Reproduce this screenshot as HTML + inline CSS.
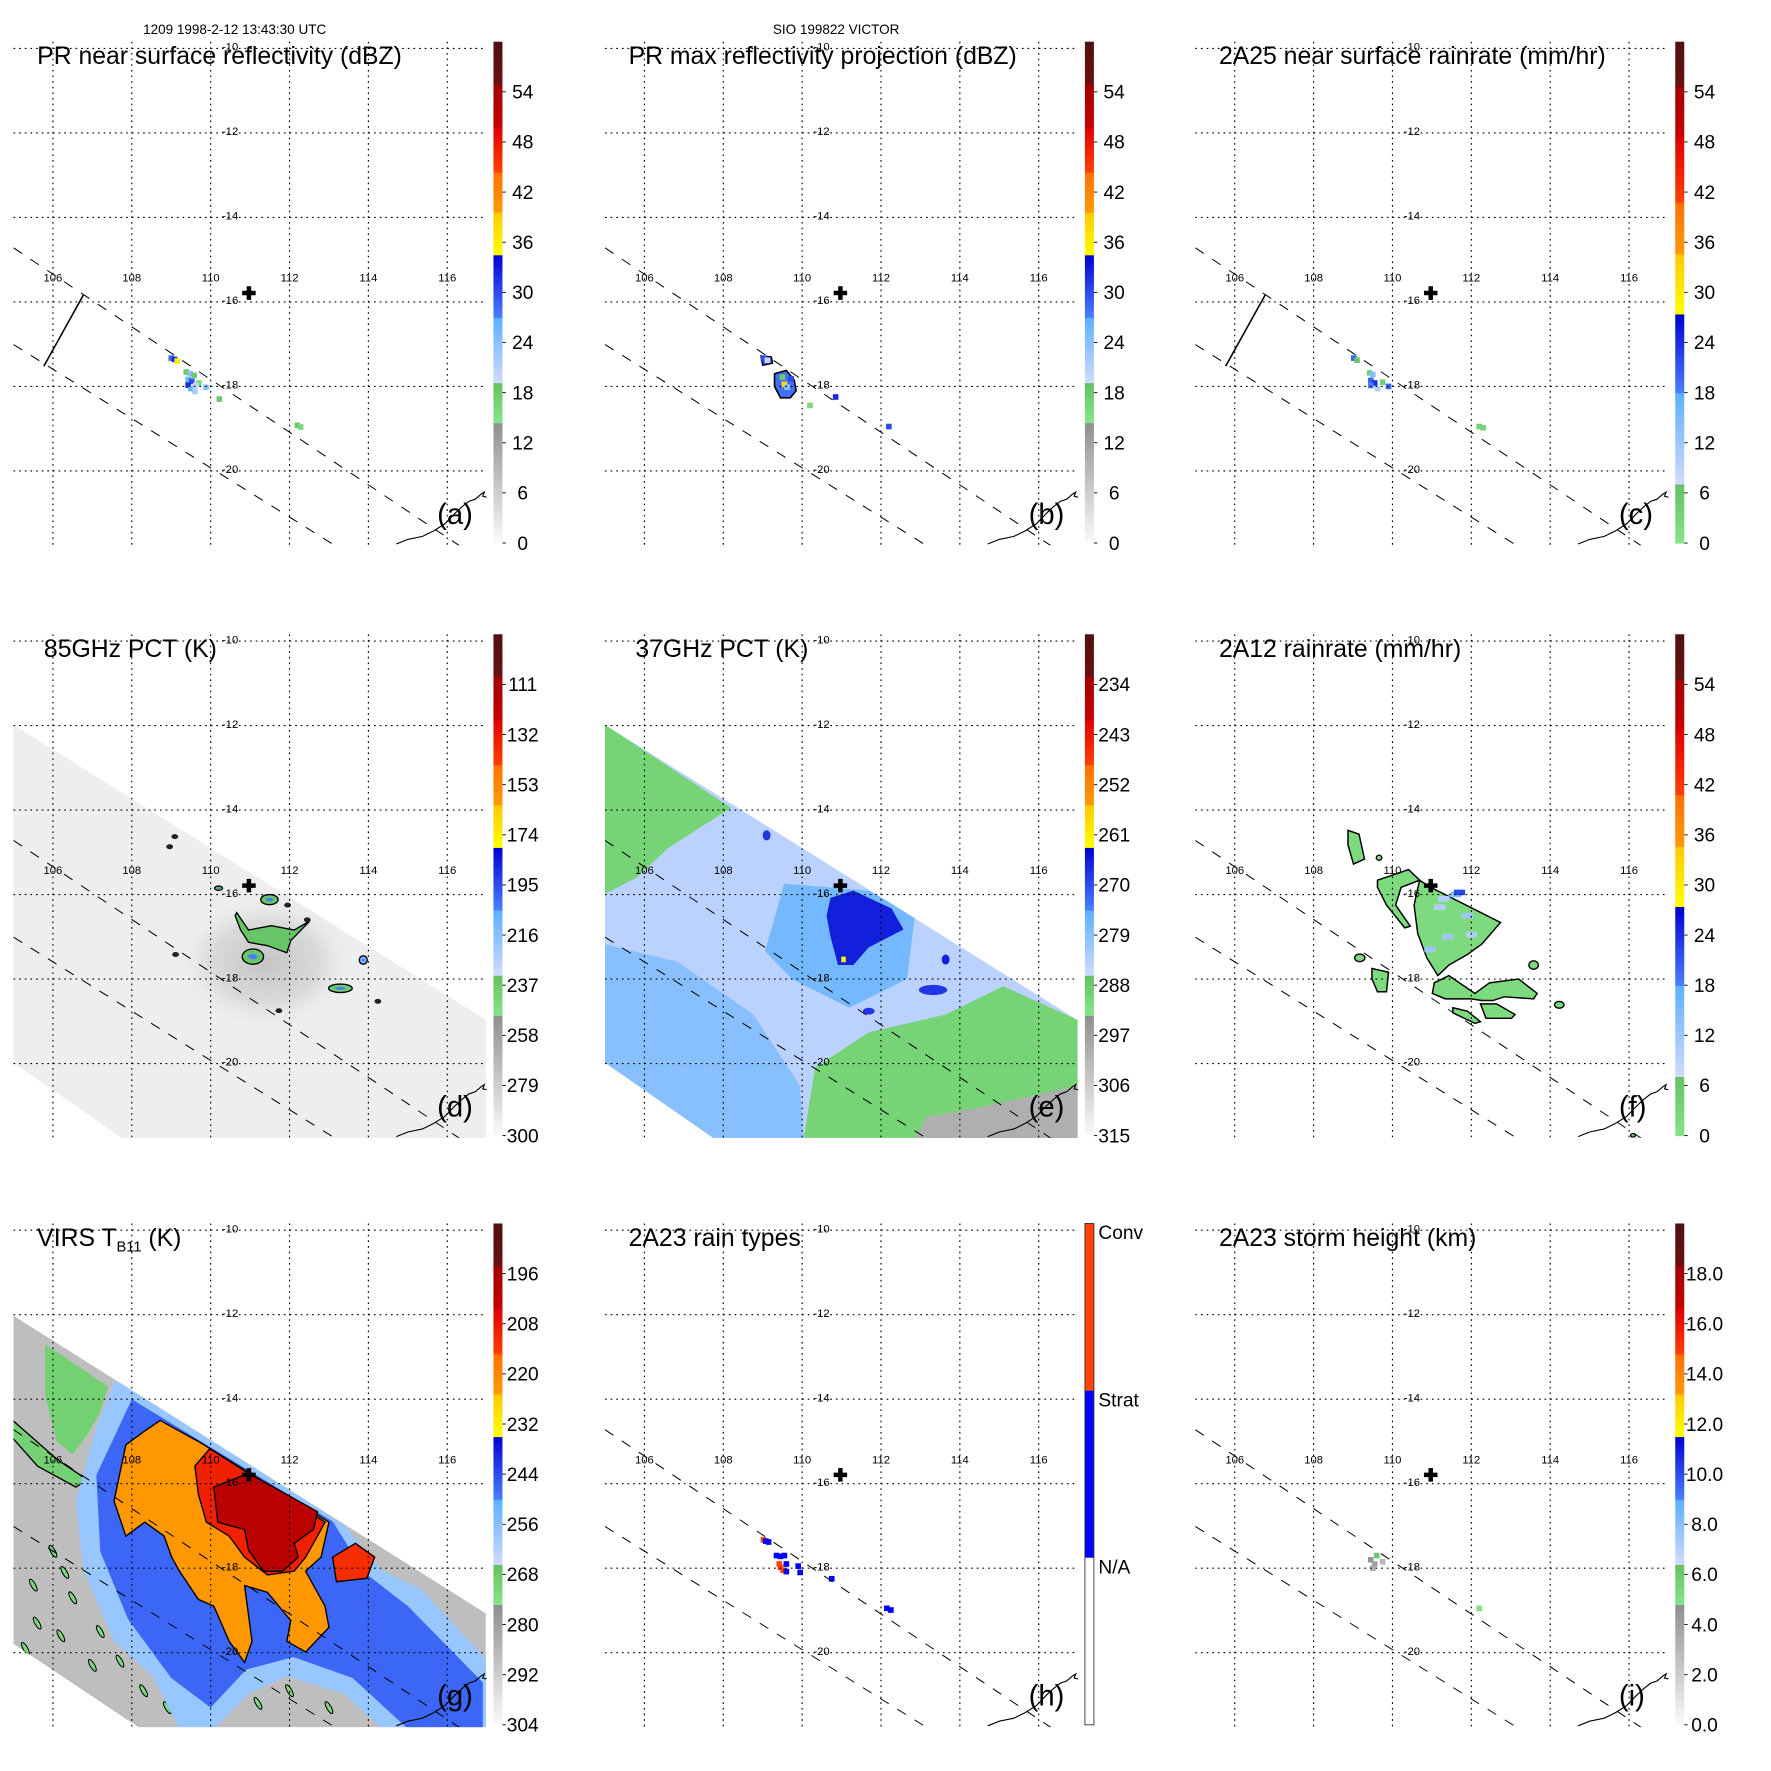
<!DOCTYPE html>
<html><head><meta charset="utf-8"><title>TRMM VICTOR 1998</title>
<style>html,body{margin:0;padding:0;background:#fff}svg{display:block;font-family:"Liberation Sans",sans-serif}</style>
</head><body>
<svg id="fig" width="1771" height="1771" viewBox="0 0 1572 1572" xmlns="http://www.w3.org/2000/svg">
<rect x="0" y="0" width="1572" height="1572" fill="#fff"/>
<text x="127" y="30" font-size="12">1209 1998-2-12 13:43:30 UTC</text>
<text x="686" y="30" font-size="12">SIO 199822 VICTOR</text>
</svg>
<script>
// ---- axis data ----
const lonTicks = [106,108,110,112,114,116];
const latTicks = [-10,-12,-14,-16,-18,-20];
const stormCenter = [110.97,-15.79];
const swathUpper = [[105,-14.72],[117,-22.2]];
const swathLower = [[105,-17.01],[113.09,-21.73]];
const scanLine = [[106.77,-15.84],[105.77,-17.52]];
const coast = [[114.71,-21.73],[115.0,-21.62],[115.37,-21.55],[115.65,-21.42],[115.94,-21.25],[116.2,-21.0],[116.37,-20.85],[116.55,-20.72],[116.71,-20.67],[116.86,-20.55],[116.94,-20.5],[116.9,-20.6],[117.0,-20.62]];

// tick labels per colorbar (bottom -> top, fractions k/10)
const ticksA = ['0','6','12','18','24','30','36','42','48','54'];
const ticksC = ['0','6','12','18','24','30','36','42','48','54'];
const ticksD = ['300','279','258','237','216','195','174','153','132','111'];
const ticksE = ['315','306','297','288','279','270','261','252','243','234'];
const ticksG = ['304','292','280','268','256','244','232','220','208','196'];
const ticksI = ['0.0','2.0','4.0','6.0','8.0','10.0','12.0','14.0','16.0','18.0'];
const ticksH = ['N/A','Strat','Conv'];

// ---- rain cells [lon, lat, value] ----
const cellsA = [[109.0,-17.33,28],[109.08,-17.36,32],[109.15,-17.4,36],[109.38,-17.66,18],[109.48,-17.7,24],[109.58,-17.74,18],[109.43,-17.84,26],[109.52,-17.88,30],[109.43,-17.97,32],[109.5,-18.05,26],[109.6,-18.12,22],[109.7,-17.92,16],[109.88,-18.02,24],[109.62,-17.98,20],[112.2,-18.92,18],[112.28,-18.96,16],[110.22,-18.3,18]];
const cellsB = [[109.02,-17.33,30],[109.12,-17.38,20],[109.5,-17.78,18],[109.55,-17.95,38],[109.62,-18.02,24],[109.72,-17.82,30],[112.2,-18.95,30],[110.85,-18.25,32],[110.2,-18.45,16]];
const cellsC = [[109.02,-17.33,20],[109.1,-17.38,6],[109.42,-17.68,4],[109.5,-17.72,14],[109.45,-17.86,20],[109.55,-17.92,24],[109.45,-17.98,18],[109.62,-18.05,10],[109.75,-17.9,4],[109.9,-18.0,20],[112.2,-18.95,4],[112.3,-18.98,3]];
const cellsH = [[109.02,-17.33,2],[109.08,-17.36,1],[109.15,-17.38,1],[109.35,-17.7,1],[109.45,-17.72,1],[109.55,-17.7,1],[109.42,-17.9,2],[109.45,-17.98,2],[109.52,-18.05,2],[109.6,-17.9,1],[109.6,-18.08,1],[109.9,-17.95,1],[109.95,-18.1,1],[110.75,-18.25,1],[112.15,-18.95,1],[112.25,-18.99,1]];
const cellsI = [[109.45,-17.8,4.5],[109.55,-17.9,4],[109.5,-18.0,3.5],[109.6,-17.7,6],[109.75,-17.85,3],[112.2,-18.95,5]];

// ---- 85 GHz features ----
const dSmudge = [[111.4,-17.6,265]];
const dBlobMain = [[110.66,-16.43],[110.96,-16.84],[111.54,-16.74],[112.12,-16.84],[112.51,-16.63],[112.03,-17.09],[111.93,-17.38],[111.44,-17.21],[110.96,-17.13],[110.76,-16.84],[110.62,-16.5]];
const dBlobs = [[111.07,-17.47,0.27,0.18,235],[111.49,-16.12,0.22,0.12,235],[113.29,-18.22,0.3,0.1,237],[113.87,-17.55,0.1,0.1,215],[110.2,-15.85,0.1,0.05,237]];
const dDark = [[109.09,-14.63],[108.96,-14.87],[109.11,-17.42],[114.24,-18.53],[111.73,-18.75],[111.95,-16.25],[112.45,-16.6]];

// ---- 37 GHz regions ----
const eLeftBlue = [[104.98,-17.17],[106.83,-17.59],[108.77,-18.84],[109.94,-20.52],[110.04,-21.78],[107.75,-21.78],[104.98,-19.97]];
const eGreenTL = [[104.98,-11.97],[108.2,-13.95],[107.6,-14.3],[106.6,-14.9],[105.8,-15.6],[104.98,-16.0]];
const eGreenBR = [[110.04,-21.78],[110.33,-20.1],[111.69,-19.26],[113.64,-18.84],[115.1,-18.17],[116.99,-18.97],[116.99,-21.78]];
const eGray = [[112.86,-21.78],[113.15,-21.27],[114.61,-21.02],[116.99,-20.52],[116.99,-21.78]];
const eMid = [[109.55,-15.74],[111.69,-15.91],[112.86,-16.5],[112.66,-18.0],[111.2,-18.68],[109.74,-18.0],[109.06,-17.34]];
const eCore = [[110.72,-16.08],[111.3,-15.91],[112.27,-16.33],[112.57,-16.83],[111.69,-17.25],[111.3,-17.67],[110.91,-17.67],[110.72,-17.0],[110.62,-16.5]];
const eBlobs = [[113.32,-18.26,0.36,0.12,268],[113.64,-17.54,0.1,0.12,266],[111.69,-18.76,0.15,0.08,268],[109.1,-14.6,0.1,0.12,268]];

// ---- 2A12 rain polygons ----
const fPolys = [
 [[110.69,-15.66],[110.97,-15.83],[112.74,-16.66],[112.27,-17.17],[111.9,-17.42],[111.43,-17.67],[111.15,-17.92],[110.87,-17.5],[110.64,-16.92],[110.55,-16.25]],
 [[109.62,-15.66],[110.41,-15.41],[110.69,-15.66],[110.22,-15.83],[110.08,-16.25],[110.45,-16.75],[110.31,-16.79],[109.85,-16.25],[109.62,-15.83]],
 [[111.06,-18.09],[111.43,-17.92],[112.09,-18.34],[112.46,-18.09],[113.2,-18.0],[113.67,-18.34],[113.58,-18.47],[112.83,-18.42],[112.55,-18.51],[112.27,-18.51],[111.99,-18.47],[111.34,-18.47],[111.01,-18.34]],
 [[112.23,-18.59],[112.64,-18.59],[113.11,-18.84],[113.02,-18.93],[112.37,-18.93]],
 [[111.53,-18.68],[111.9,-18.76],[112.23,-19.01],[112.09,-19.05],[111.53,-18.8]],
 [[108.87,-14.48],[109.15,-14.57],[109.29,-15.16],[109.01,-15.28],[108.87,-14.82]],
 [[109.48,-17.75],[109.9,-17.84],[109.85,-18.3],[109.62,-18.3],[109.48,-18.0]]
];
const fBlobs = [[109.17,-17.5,0.13,0.09],[113.58,-17.67,0.12,0.1],[114.23,-18.61,0.12,0.08],[109.66,-15.13,0.07,0.06],[116.1,-21.7,0.06,0.04]];
const fBlue = [[111.3,-16.1,10],[111.6,-16.0,14],[111.2,-16.3,10],[111.9,-16.5,12],[111.4,-17.0,12],[112.0,-16.95,10],[110.95,-17.3,12],[111.7,-15.95,22]];

// ---- VIRS regions ----
const gBlueOuter = [[107.6,-13.5],[113.39,-16.99],[114.36,-18.07],[115.33,-18.49],[116.98,-20.15],[116.98,-21.81],[114.36,-21.81],[113.39,-20.98],[111.93,-20.56],[110.96,-20.98],[110.08,-21.81],[109.21,-21.81],[108.53,-20.56],[107.55,-19.73],[106.78,-18.07],[106.58,-16.41],[107.07,-14.75]];
const gBlueInner = [[108.0,-14.0],[113.1,-16.9],[113.9,-18.1],[115.0,-18.9],[116.9,-20.7],[116.9,-21.8],[115.0,-21.8],[113.6,-20.6],[112.1,-20.1],[110.9,-20.4],[110.0,-21.3],[109.0,-20.6],[107.9,-19.2],[107.2,-17.6],[107.1,-15.8]];
const gGreen1 = [[105.8,-12.7],[107.4,-13.7],[107.2,-14.3],[106.9,-14.8],[106.5,-15.3],[106.1,-15.0],[105.8,-13.9]];
const gGreen2 = [[104.98,-14.5],[106.1,-15.42],[106.87,-15.91],[106.58,-16.08],[105.61,-15.58],[104.98,-14.92]];
const gOrange = [[108.72,-14.5],[109.69,-15.0],[113.0,-16.91],[112.8,-17.74],[112.41,-18.07],[112.9,-18.9],[113.0,-19.4],[112.41,-19.98],[111.93,-19.73],[112.03,-19.24],[111.44,-18.57],[110.86,-18.41],[111.05,-19.73],[110.86,-20.23],[110.47,-19.73],[110.08,-18.9],[109.69,-18.74],[109.21,-18.07],[109.01,-17.74],[108.82,-17.24],[108.33,-16.91],[107.85,-17.24],[107.55,-16.41],[107.85,-15.08],[108.33,-14.75]];
const gRed = [[109.6,-15.58],[109.98,-15.17],[112.9,-16.91],[112.71,-17.24],[112.41,-17.74],[112.12,-18.07],[111.44,-18.16],[110.86,-17.74],[110.47,-17.24],[109.89,-16.91],[109.69,-16.25]];
const gDark = [[110.08,-16.08],[110.96,-15.75],[112.71,-16.66],[112.61,-17.08],[112.12,-17.41],[112.22,-17.74],[111.83,-18.07],[111.34,-18.07],[110.96,-17.57],[110.86,-17.08],[110.47,-16.99],[110.18,-16.91]];
const gSmallRed = [[113.09,-17.74],[113.67,-17.41],[114.16,-17.74],[113.96,-18.24],[113.19,-18.32]];
const gStreaks = [[106.0,-17.6],[106.3,-18.1],[106.5,-18.7],[105.6,-19.3],[107.2,-19.5],[107.7,-20.2],[108.3,-20.9],[108.9,-21.3],[109.6,-20.8],[110.3,-21.2],[111.2,-21.2],[112.0,-20.9],[113.0,-21.3],[114.2,-20.6],[115.0,-19.8],[115.8,-20.3],[116.4,-19.9],[105.5,-18.4],[106.9,-16.7],[107.3,-18.8],[108.0,-18.3],[108.6,-19.4],[109.3,-19.7],[109.8,-20.2],[113.8,-19.3],[115.3,-21.1],[116.2,-21.4],[105.3,-19.9],[106.2,-19.6],[107.0,-20.3]];

// ---- projection (axis functions) ----
function X(lon){ return 47 + (lon-106)*35; }
function Y(lat){ return 43 + (-10-lat)*37.5; }
function pts(arr){ return arr.map(p => X(p[0]).toFixed(1)+','+Y(p[1]).toFixed(1)).join(' '); }

// ---- palettes ----
const palRefl = [[0,0.24,'#fbfbfb','#8e8e8e'],[0.24,0.32,'#88e488','#62c062'],[0.32,0.45,'#d2daff','#5ab0ff'],[0.45,0.575,'#4a80ff','#0000d0'],[0.575,0.66,'#ffff00','#ffc800'],[0.66,0.74,'#ff9a00','#ff7000'],[0.74,0.83,'#ff4000','#e00000'],[0.83,0.916,'#c80000','#a00000'],[0.916,1,'#6a1010','#501010']];
const palRain = [[0,0.118,'#88e488','#64c064'],[0.118,0.3,'#d2daff','#5ab0ff'],[0.3,0.457,'#4a80ff','#0000d0'],[0.457,0.577,'#ffff00','#ffc800'],[0.577,0.68,'#ff9a00','#ff7000'],[0.68,0.81,'#ff4000','#e00000'],[0.81,0.91,'#c80000','#a00000'],[0.91,1,'#6a1010','#501010']];

function hex2rgb(h){ return [parseInt(h.substr(1,2),16),parseInt(h.substr(3,2),16),parseInt(h.substr(5,2),16)]; }
function colorAt(pal, f){
  f = Math.max(0, Math.min(0.999, f));
  for (const s of pal){
    if (f >= s[0] && f < s[1]){
      const t = (f - s[0])/(s[1]-s[0]);
      const a = hex2rgb(s[2]), b = hex2rgb(s[3]);
      return 'rgb('+a.map((v,i)=>Math.round(v+(b[i]-v)*t)).join(',')+')';
    }
  }
  return '#fff';
}

const NS = 'http://www.w3.org/2000/svg';
const svg = document.getElementById('fig');
function mk(tag, attrs, parent){
  const e = document.createElementNS(NS, tag);
  for (const k in attrs) e.setAttribute(k, attrs[k]);
  parent.appendChild(e);
  return e;
}

const panels = [
 {id:'a', dx:0, dy:0, title:'PR near surface reflectivity (dBZ)', ticks:ticksA, pal:palRefl, vmin:0, vmax:60, rev:false, scan:true},
 {id:'b', dx:525, dy:0, title:'PR max reflectivity projection (dBZ)', ticks:ticksA, pal:palRefl, vmin:0, vmax:60, rev:false},
 {id:'c', dx:1049, dy:0, title:'2A25 near surface rainrate (mm/hr)', ticks:ticksC, pal:palRain, vmin:0, vmax:60, rev:false, scan:true},
 {id:'d', dx:0, dy:526, title:'85GHz PCT (K)', ticks:ticksD, pal:palRefl, vmin:90, vmax:300, rev:true, tx:39},
 {id:'e', dx:525, dy:526, title:'37GHz PCT (K)', ticks:ticksE, pal:palRefl, vmin:225, vmax:315, rev:true, tx:39},
 {id:'f', dx:1049, dy:526, title:'2A12 rainrate (mm/hr)', ticks:ticksC, pal:palRain, vmin:0, vmax:60, rev:false},
 {id:'g', dx:0, dy:1049, title:'VIRS', ticks:ticksG, pal:palRefl, vmin:184, vmax:304, rev:true},
 {id:'h', dx:525, dy:1049, title:'2A23 rain types', ticks:ticksH, pal:null},
 {id:'i', dx:1049, dy:1049, title:'2A23 storm height (km)', ticks:ticksI, pal:palRefl, vmin:0, vmax:20, rev:false}
];

function frac(p, v){ return p.rev ? (p.vmax - v)/(p.vmax - p.vmin) : (v - p.vmin)/(p.vmax - p.vmin); }
function col(p, v){ return colorAt(p.pal, frac(p, v)); }

const defs = mk('defs', {}, svg);

panels.forEach(p => {
  const g = mk('g', {transform:'translate('+p.dx+','+p.dy+')'}, svg);
  
  

  const cp = mk('clipPath', {id:'clip-'+p.id}, defs);
  mk('rect', {x:12, y:37, width:420, height:447}, cp);
  const map = mk('g', {'clip-path':'url(#clip-'+p.id+')'}, g);
  
  

  if (p.id === 'd' || p.id === 'e') {
    const sw = [[104.98,-11.97],[116.99,-18.97],[116.99,-21.8],[107.8,-21.8],[104.98,-19.97]];
    const swc = mk('clipPath', {id:'sw-'+p.id}, defs);
    mk('polygon', {points:pts(sw)}, swc);
    const L = mk('g', {'clip-path':'url(#sw-'+p.id+')'}, map);
    if (p.id === 'd') {
      const base = mk('polygon', {points:pts(sw), fill:'#eeeeee'}, L);
      
      
      const rg = mk('radialGradient', {id:'smudge'}, defs);
      mk('stop', {offset:'0', 'stop-color':'#c4c4c4'}, rg);
      mk('stop', {offset:'0.6', 'stop-color':'#dadada'}, rg);
      mk('stop', {offset:'1', 'stop-color':'#eeeeee', 'stop-opacity':'0'}, rg);
      dSmudge.forEach(s => {
        const e = mk('ellipse', {cx:X(s[0]), cy:Y(s[1]), rx:80, ry:60, fill:'url(#smudge)'}, L);
        
        
      });
      const m = mk('polygon', {points:pts(dBlobMain), fill:col(p,235), stroke:'#000', 'stroke-width':1.2}, L);
      
      
      dBlobs.forEach(b => {
        const e = mk('ellipse', {cx:X(b[0]), cy:Y(b[1]), rx:b[2]*35, ry:b[3]*37.5, fill:col(p,b[4]), stroke:'#000', 'stroke-width':1.2}, L);
        
        
        const c = mk('ellipse', {cx:X(b[0]), cy:Y(b[1]), rx:b[2]*35*0.45, ry:b[3]*37.5*0.35, fill:col(p,205)}, L);
        
        
      });
      dDark.forEach(b => {
        const e = mk('ellipse', {cx:X(b[0]), cy:Y(b[1]), rx:3, ry:2.2, fill:'#222'}, L);
        
        
      });
    } else {
      const base = mk('polygon', {points:pts(sw), fill:col(p,284)}, L);
      
      
      [[eLeftBlue,279,'left-region'],[eGreenTL,290,'warm-region-nw'],[eGreenBR,290,'warm-region-se'],[eGray,300,'land-region'],[eMid,277,'rain-region'],[eCore,266,'rain-core']].forEach(r => {
        const e = mk('polygon', {points:pts(r[0]), fill:col(p,r[1])}, L);
        
        
      });
      eBlobs.forEach(b => {
        const e = mk('ellipse', {cx:X(b[0]), cy:Y(b[1]), rx:b[2]*35, ry:b[3]*37.5, fill:col(p,b[4])}, L);
        
        
      });
      const y = mk('rect', {x:X(111.05)-2, y:Y(-17.55)-3, width:4, height:5, fill:'#ffff00'}, L);
      
      
    }
  }

  if (p.id === 'g') {
    const sw = [[104.98,-12.01],[116.98,-19.07],[116.98,-21.81],[108.24,-21.81],[104.98,-19.78]];
    const swc = mk('clipPath', {id:'sw-g'}, defs);
    mk('polygon', {points:pts(sw)}, swc);
    const L = mk('g', {'clip-path':'url(#sw-g)'}, map);
    const base = mk('polygon', {points:pts(sw), fill:col(p,288)}, L);
    
    
    gStreaks.forEach(s => {
      const e = mk('ellipse', {cx:X(s[0]), cy:Y(s[1]), rx:6, ry:2, transform:'rotate(60 '+X(s[0])+' '+Y(s[1])+')', fill:col(p,272), stroke:'#000', 'stroke-width':0.9}, L);
      
      
    });
    const layers = [[gGreen1,270,'none','cloud-edge-nw'],[gGreen2,270,'#000','cloud-edge-w'],[gBlueOuter,258,'none','cloud-shield-outer'],[gBlueInner,247,'none','cloud-shield-inner'],[gOrange,224,'#000','cold-cloud'],[gRed,210,'#000','very-cold-cloud'],[gDark,201,'#000','coldest-cloud'],[gSmallRed,212,'#000','cold-cell-east']];
    layers.forEach(r => {
      const e = mk('polygon', {points:pts(r[0]), fill:col(p,r[1]), stroke:r[2], 'stroke-width':1.2}, L);
      
      
    });
  }

  if (p.id === 'f') {
    fPolys.forEach(poly => {
      const e = mk('polygon', {points:pts(poly), fill:col(p,2), stroke:'#000', 'stroke-width':1.3}, map);
      
      
    });
    fBlobs.forEach(b => {
      const e = mk('ellipse', {cx:X(b[0]), cy:Y(b[1]), rx:b[2]*35, ry:b[3]*37.5, fill:col(p,2), stroke:'#000', 'stroke-width':1.2}, map);
      
      
    });
    fBlue.forEach(c => {
      const e = mk('rect', {x:X(c[0])-5, y:Y(c[1])-2.5, width:10, height:5, fill:col(p,c[2])}, map);
      
      
    });
  }

  const cellMap = {a:cellsA, b:cellsB, c:cellsC, i:cellsI};
  if (p.id === 'b') {
    const o1 = mk('polygon', {points:pts([[108.95,-17.28],[109.22,-17.3],[109.25,-17.45],[109.0,-17.5]]), fill:col(p,30), stroke:'#000', 'stroke-width':1.2}, map);
    
    
    const o2 = mk('polygon', {points:pts([[109.3,-17.7],[109.6,-17.62],[109.8,-17.85],[109.85,-18.1],[109.7,-18.27],[109.45,-18.27],[109.3,-18.0]]), fill:col(p,28), stroke:'#000', 'stroke-width':1.4}, map);
    
    
  }
  if (cellMap[p.id]) {
    cellMap[p.id].forEach(c => {
      const e = mk('rect', {x:X(c[0])-2.5, y:Y(c[1])-2.5, width:5, height:5, fill:col(p,c[2])}, map);
      
      
    });
  }
  if (p.id === 'h') {
    cellsH.forEach(c => {
      const e = mk('rect', {x:X(c[0])-2.5, y:Y(c[1])-2.5, width:5, height:5, fill:c[2]===2?'#ff4400':'#0000ff'}, map);
      
      
    });
  }

  lonTicks.forEach(lon => {
    const l = mk('line', {x1:X(lon), y1:37, x2:X(lon), y2:484, stroke:'#000', 'stroke-width':1, 'stroke-dasharray':'1.5,3.5'}, map);
    
    
    const t = mk('text', {x:X(lon), y:250, 'font-size':10, 'text-anchor':'middle'}, g);
    t.textContent = String(lon);
    
    
  });
  latTicks.forEach(lat => {
    const l = mk('line', {x1:12, y1:Y(lat), x2:432, y2:Y(lat), stroke:'#000', 'stroke-width':1, 'stroke-dasharray':'1.5,3.5'}, map);
    
    
    const t = mk('text', {x:197, y:Y(lat)+2, 'font-size':10}, g);
    t.textContent = String(lat);
    
    
  });

  [swathUpper, swathLower].forEach(sl => {
    const l = mk('line', {x1:X(sl[0][0]), y1:Y(sl[0][1]), x2:X(sl[1][0]), y2:Y(sl[1][1]), stroke:'#000', 'stroke-width':0.9, 'stroke-dasharray':'9,9'}, map);
    
    
  });
  if (p.scan) {
    const l = mk('line', {x1:X(scanLine[0][0]), y1:Y(scanLine[0][1]), x2:X(scanLine[1][0]), y2:Y(scanLine[1][1]), stroke:'#000', 'stroke-width':1.4}, map);
    
    
  }
  const cl = mk('polyline', {points:pts(coast), fill:'none', stroke:'#000', 'stroke-width':1}, map);
  
  

  const cx = X(stormCenter[0]), cy = Y(stormCenter[1]);
  const cr = mk('path', {d:'M'+(cx-6)+' '+(cy-2)+'h4v-4h4v4h4v4h-4v4h-4v-4h-4z', fill:'#000'}, g);
  
  

  const tt = mk('text', {x:p.tx||33, y:57, 'font-size':22}, g);
  
  
  if (p.id === 'g') {
    tt.textContent = 'VIRS T';
    const sub = mk('tspan', {'font-size':13, dy:5}, tt);
    sub.textContent = 'B11';
    const rest = mk('tspan', {dy:-5}, tt);
    rest.textContent = ' (K)';
  } else {
    tt.textContent = p.title;
  }
  const pl = mk('text', {x:388, y:465, 'font-size':26}, g);
  pl.textContent = '('+p.id+')';
  
  

  const cb = mk('g', {}, g);
  
  
  const top = 37, bot = 482, h = bot - top;
  if (p.pal) {
    p.pal.forEach((s, k) => {
      const gid = 'grad-'+p.id+'-'+k;
      const lg = mk('linearGradient', {id:gid, x1:0, y1:1, x2:0, y2:0}, defs);
      mk('stop', {offset:0, 'stop-color':s[2]}, lg);
      mk('stop', {offset:1, 'stop-color':s[3]}, lg);
      const r = mk('rect', {x:438, y:bot - s[1]*h, width:8, height:(s[1]-s[0])*h+0.5, fill:'url(#'+gid+')'}, cb);
      
      
    });
    p.ticks.forEach((lab, k) => {
      const y = bot - (k/10)*h;
      mk('line', {x1:446, y1:y, x2:449, y2:y, stroke:'#000', 'stroke-width':0.8}, cb);
      const t = mk('text', {x:464, y:y+6, 'font-size':17, 'text-anchor':'middle'}, cb);
      t.textContent = lab;
      
      
    });
  } else {
    const segs = [['#ffffff',0,1/3],['#0000ff',1/3,2/3],['#ff4400',2/3,1]];
    segs.forEach(s => {
      const r = mk('rect', {x:438, y:bot - s[2]*h, width:8, height:(s[2]-s[1])*h, fill:s[0]}, cb);
      
      
    });
    mk('rect', {x:438, y:top, width:8, height:h, fill:'none', stroke:'#333', 'stroke-width':0.8}, cb);
    p.ticks.forEach((lab, k) => {
      const y = bot - ((k+1)/3)*h;
      const t = mk('text', {x:450, y:y+14, 'font-size':17}, cb);
      t.textContent = lab;
      
      
    });
  }
});
</script>
</body></html>
